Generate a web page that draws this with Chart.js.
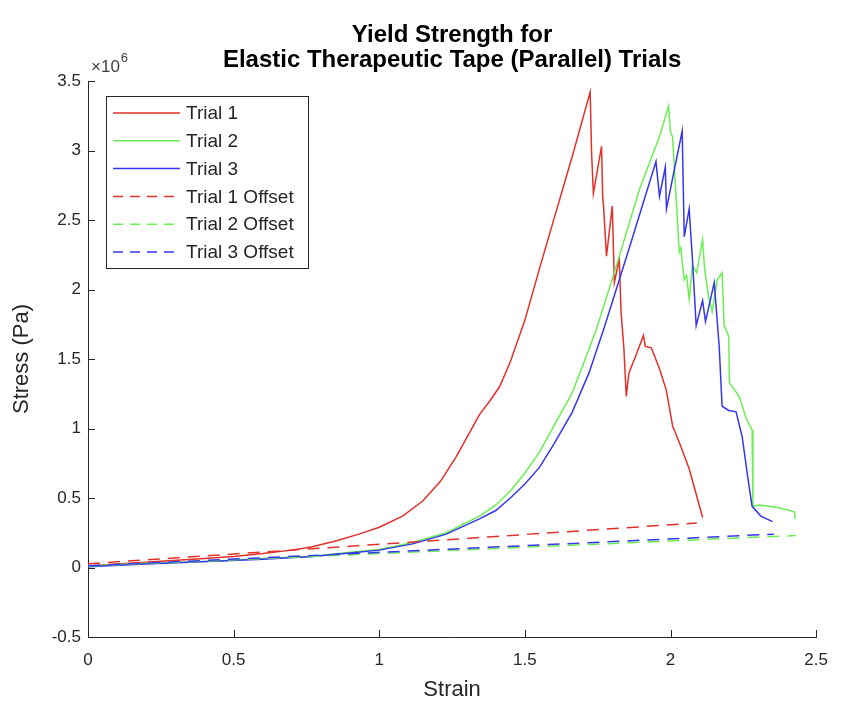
<!DOCTYPE html>
<html>
<head>
<meta charset="utf-8">
<script src="https://cdn.jsdelivr.net/npm/chart.js@4.4.0/dist/chart.umd.min.js"></script>
<style>
  html, body { margin: 0; padding: 0; background: #fff; }
</style>
</head>
<body>
<canvas id="chart" width="841" height="719"></canvas>
<script>
// stress values are in units of 10^6 Pa (axis multiplier shown as x10^6)
var trial1Strain = [0, 0.1, 0.25, 0.4, 0.5, 0.6, 0.7, 0.77, 0.85, 0.93, 1.0, 1.08, 1.15, 1.21, 1.265, 1.31, 1.344, 1.38, 1.413, 1.45, 1.5, 1.55, 1.6, 1.663, 1.724, 1.729, 1.735, 1.763, 1.767, 1.77, 1.78, 1.8, 1.807, 1.824, 1.83, 1.84, 1.848, 1.857, 1.88, 1.907, 1.913, 1.934, 1.962, 1.985, 2.007, 2.03, 2.064, 2.11];
var trial1Stress = [0.01, 0.025, 0.045, 0.065, 0.08, 0.1, 0.125, 0.15, 0.19, 0.24, 0.29, 0.37, 0.48, 0.62, 0.8, 0.97, 1.1, 1.2, 1.3, 1.48, 1.78, 2.15, 2.51, 2.96, 3.42, 2.98, 2.69, 3.03, 2.67, 2.6, 2.24, 2.6, 2.05, 2.22, 1.84, 1.57, 1.23, 1.4, 1.52, 1.67, 1.59, 1.58, 1.43, 1.28, 1.02, 0.9, 0.71, 0.36];

var trial2Strain = [0, 0.2, 0.43, 0.6, 0.77, 0.9, 1.0, 1.115, 1.23, 1.344, 1.4, 1.45, 1.5, 1.55, 1.6, 1.663, 1.7, 1.745, 1.814, 1.893, 1.962, 1.993, 2.0, 2.007, 2.018, 2.03, 2.035, 2.047, 2.055, 2.064, 2.075, 2.09, 2.11, 2.116, 2.13, 2.143, 2.16, 2.177, 2.184, 2.2, 2.202, 2.236, 2.26, 2.28, 2.283, 2.305, 2.373, 2.425, 2.428];
var trial2Stress = [0.01, 0.03, 0.045, 0.065, 0.08, 0.11, 0.13, 0.18, 0.25, 0.37, 0.45, 0.55, 0.68, 0.83, 1.02, 1.26, 1.46, 1.71, 2.17, 2.72, 3.1, 3.32, 3.13, 3.1, 2.7, 2.27, 2.3, 2.07, 2.1, 1.93, 2.17, 2.12, 2.36, 2.17, 1.95, 1.84, 2.07, 2.12, 1.74, 1.66, 1.33, 1.23, 1.07, 0.99, 0.44, 0.45, 0.43, 0.4, 0.35];

var trial3Strain = [0, 0.2, 0.43, 0.6, 0.77, 0.9, 1.0, 1.115, 1.23, 1.344, 1.4, 1.45, 1.5, 1.55, 1.6, 1.663, 1.72, 1.773, 1.857, 1.95, 1.962, 1.982, 1.986, 2.007, 2.04, 2.047, 2.064, 2.075, 2.088, 2.11, 2.12, 2.15, 2.167, 2.177, 2.2, 2.225, 2.246, 2.265, 2.28, 2.31, 2.35];
var trial3Stress = [0.005, 0.025, 0.045, 0.06, 0.08, 0.105, 0.125, 0.17, 0.24, 0.35, 0.41, 0.5, 0.6, 0.72, 0.89, 1.12, 1.4, 1.73, 2.29, 2.92, 2.67, 2.88, 2.58, 2.8, 3.14, 2.38, 2.58, 2.22, 1.74, 1.92, 1.77, 2.05, 1.59, 1.16, 1.13, 1.12, 0.94, 0.65, 0.44, 0.37, 0.33];

var offset1Strain = [0, 2.09];
var offset1Stress = [0.027, 0.32];
var offset2Strain = [0, 2.43];
var offset2Stress = [0.01, 0.23];
var offset3Strain = [0, 2.355];
var offset3Stress = [0.012, 0.24];

var seriesLabels = ['Trial 1', 'Trial 2', 'Trial 3', 'Trial 1 Offset', 'Trial 2 Offset', 'Trial 3 Offset'];
var seriesColors = ['#e2302a', '#6aee52', '#3636ee'];
var xTickValues = [0, 0.5, 1, 1.5, 2, 2.5];
var yTickValues = [-0.5, 0, 0.5, 1, 1.5, 2, 2.5, 3, 3.5];

var axisColor = '#262626';
var fontFamily = '"Liberation Sans", Arial, Helvetica, sans-serif';

function toPoints(xs, ys) {
  var pts = [];
  for (var i = 0; i < xs.length; i++) pts.push({x: xs[i], y: ys[i]});
  return pts;
}

function lineSet(idx, xs, ys, dashed) {
  return {
    label: seriesLabels[idx],
    data: toPoints(xs, ys),
    borderColor: seriesColors[idx % 3],
    borderWidth: 1.5,
    borderDash: dashed ? [12, 8] : [],
    pointRadius: 0,
    tension: 0,
    fill: false,
    order: 6 - idx // later series drawn on top, like matlab
  };
}

var matlabDecor = {
  id: 'matlabDecor',
  afterDraw: function(chart) {
    var ctx = chart.ctx;
    var area = chart.chartArea;
    var xs = chart.scales.x, ys = chart.scales.y;
    ctx.save();

    // inward tick marks
    ctx.strokeStyle = axisColor;
    ctx.lineWidth = 1;
    ctx.beginPath();
    xTickValues.forEach(function(v) {
      var px = Math.round(xs.getPixelForValue(v)) + 0.5;
      ctx.moveTo(px, area.bottom);
      ctx.lineTo(px, area.bottom - 7);
    });
    yTickValues.forEach(function(v) {
      var py = Math.round(ys.getPixelForValue(v)) + 0.5;
      ctx.moveTo(area.left, py);
      ctx.lineTo(area.left + 7, py);
    });
    ctx.stroke();

    // exponent label
    ctx.fillStyle = '#404040';
    ctx.textBaseline = 'alphabetic';
    ctx.textAlign = 'left';
    ctx.font = '17px ' + fontFamily;
    ctx.fillText('\u00d710', area.left + 3, 72);
    var w = ctx.measureText('\u00d710').width;
    ctx.font = '13px ' + fontFamily;
    ctx.fillText('6', area.left + 4 + w, 62);

    // title
    var cx = (area.left + area.right) / 2;
    ctx.fillStyle = '#000';
    ctx.textAlign = 'center';
    ctx.textBaseline = 'middle';
    ctx.font = 'bold 24px ' + fontFamily;
    ctx.fillText('Yield Strength for', cx, 35);
    ctx.fillText('Elastic Therapeutic Tape (Parallel) Trials', cx, 60);

    // legend box
    var bx = 106.5, by = 96.5, bw = 202, bh = 172;
    ctx.fillStyle = '#fff';
    ctx.fillRect(bx, by, bw, bh);
    ctx.strokeStyle = axisColor;
    ctx.strokeRect(bx, by, bw, bh);
    ctx.font = '19px ' + fontFamily;
    ctx.textAlign = 'left';
    chart.data.datasets.forEach(function(ds, i) {
      var ry = 113 + i * 27.8;
      ctx.strokeStyle = ds.borderColor;
      ctx.lineWidth = 1.5;
      ctx.setLineDash(ds.borderDash.length ? [10, 7] : []);
      ctx.beginPath();
      ctx.moveTo(113, ry);
      ctx.lineTo(180, ry);
      ctx.stroke();
      ctx.setLineDash([]);
      ctx.fillStyle = axisColor;
      ctx.fillText(ds.label, 186, ry + 1);
    });
    ctx.restore();
  }
};

new Chart(document.getElementById('chart').getContext('2d'), {
  type: 'line',
  data: {
    datasets: [
      lineSet(0, trial1Strain, trial1Stress, false),
      lineSet(1, trial2Strain, trial2Stress, false),
      lineSet(2, trial3Strain, trial3Stress, false),
      lineSet(3, offset1Strain, offset1Stress, true),
      lineSet(4, offset2Strain, offset2Stress, true),
      lineSet(5, offset3Strain, offset3Stress, true)
    ]
  },
  options: {
    responsive: false,
    animation: false,
    layout: { padding: { top: 81, right: 24, bottom: 0, left: 0 } },
    plugins: {
      legend: { display: false },
      title: { display: false },
      tooltip: { enabled: false }
    },
    scales: {
      x: {
        type: 'linear',
        min: 0,
        max: 2.5,
        afterFit: function(s) { s.height = 82; },
        grid: { display: false, drawTicks: false },
        border: { display: true, color: axisColor, width: 1 },
        ticks: {
          stepSize: 0.5,
          padding: 13,
          maxRotation: 0,
          color: axisColor,
          font: { family: fontFamily, size: 17 },
          callback: function(v) { return String(Math.round(v * 10) / 10); }
        },
        title: {
          display: true,
          text: 'Strain',
          color: axisColor,
          font: { family: fontFamily, size: 22 },
          padding: { top: 0, bottom: 16 }
        }
      },
      y: {
        type: 'linear',
        min: -0.5,
        max: 3.5,
        afterFit: function(s) { s.width = 88; },
        grid: { display: false, drawTicks: false },
        border: { display: true, color: axisColor, width: 1 },
        ticks: {
          stepSize: 0.5,
          padding: 7,
          color: axisColor,
          font: { family: fontFamily, size: 17 },
          callback: function(v) { return String(Math.round(v * 10) / 10); }
        },
        title: {
          display: true,
          text: 'Stress (Pa)',
          color: axisColor,
          font: { family: fontFamily, size: 22 },
          padding: { top: 9, bottom: 0 }
        }
      }
    }
  },
  plugins: [matlabDecor]
});
</script>
</body>
</html>
